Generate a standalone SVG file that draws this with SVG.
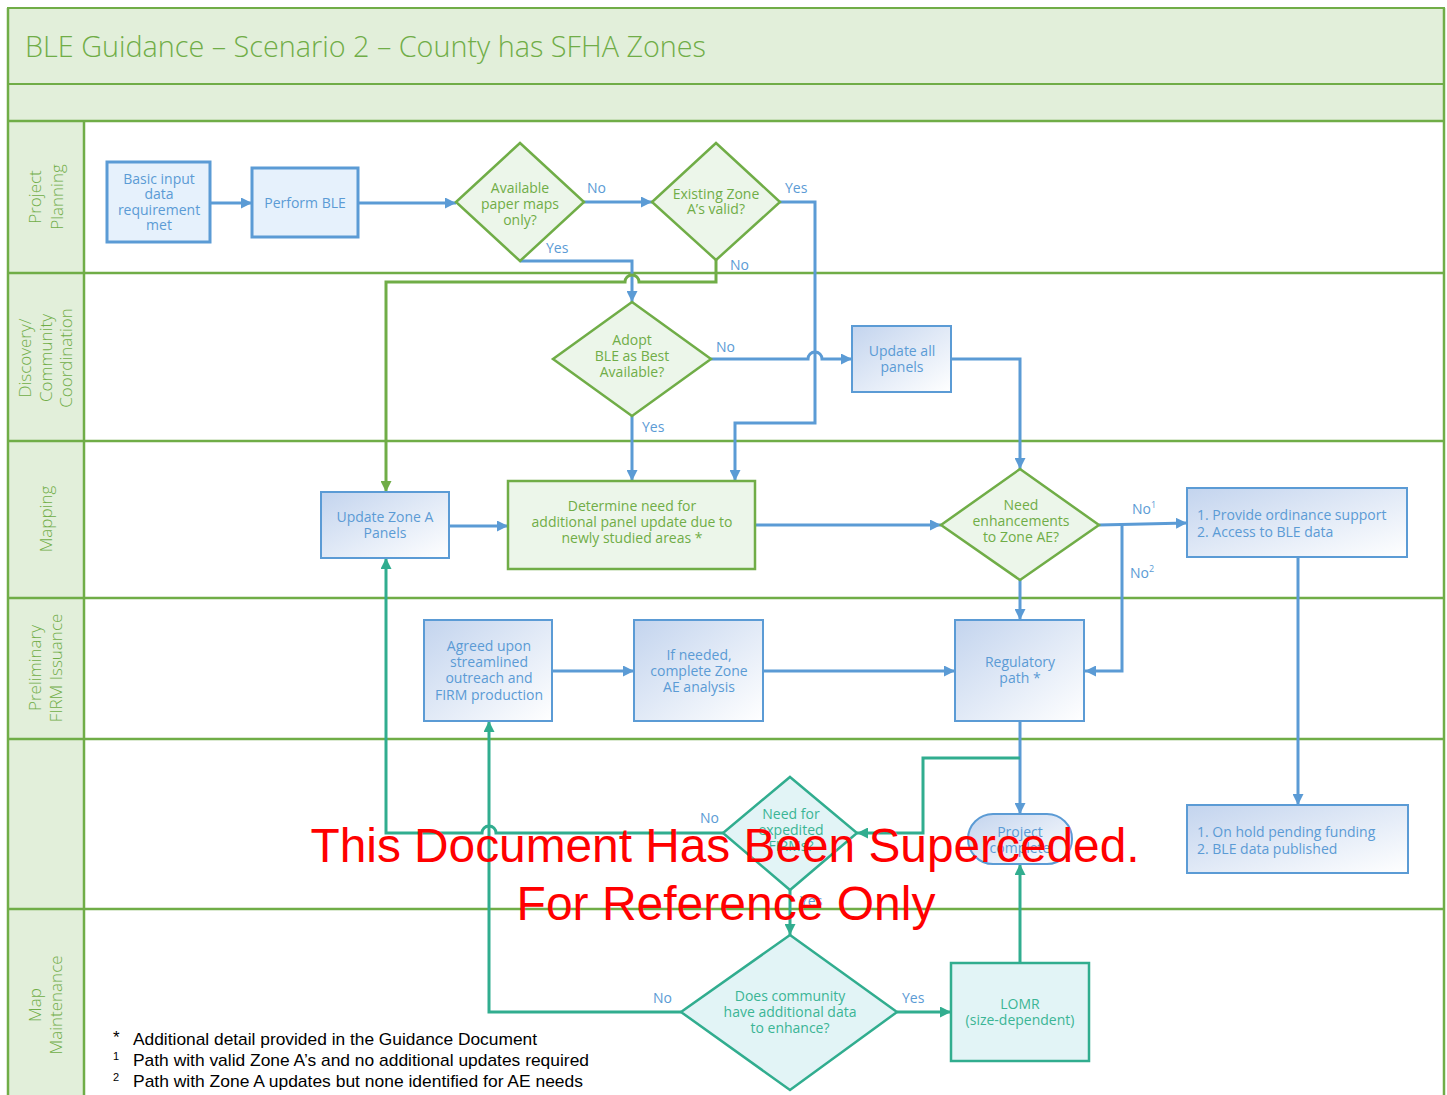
<svg xmlns="http://www.w3.org/2000/svg" width="1447" height="1095" viewBox="0 0 1447 1095">
<style>
.band{fill:#e2efda;stroke:#70ad47;stroke-width:2}
.lane{stroke:#70ad47;stroke-width:2.5;fill:none}
.hdrt{font-family:"Open Sans","Liberation Sans",sans-serif;font-weight:300;font-size:17px;fill:#70ad47;text-anchor:middle}
.t{font-family:"Open Sans","Liberation Sans",sans-serif;font-size:14px;text-anchor:middle}
.tl{font-family:"Open Sans","Liberation Sans",sans-serif;font-size:14px}
.tb{fill:#5b9bd5}
.tg{fill:#70ad47}
.tt{fill:#3bb595}
.flat{fill:#e6f1fc;stroke:#5b9bd5;stroke-width:3}
.grad{fill:url(#bg);stroke:#5b9bd5;stroke-width:2}
.gd{fill:#ecf6ea;stroke:#70ad47;stroke-width:2.5}
.td{fill:#e2f4f6;stroke:#31ad8f;stroke-width:2.5}
.cb{fill:none;stroke:#5b9bd5;stroke-width:3;marker-end:url(#ab)}
.cg{fill:none;stroke:#70ad47;stroke-width:3;marker-end:url(#ag)}
.ct{fill:none;stroke:#31ad8f;stroke-width:3;marker-end:url(#at)}
.lbl{font-family:"Open Sans","Liberation Sans",sans-serif;font-size:14px;fill:#5b9bd5}
.fn{font-family:"Liberation Sans",Arial,sans-serif;font-size:17px;fill:#000}
.sup{font-family:"Liberation Sans",Arial,sans-serif;font-size:11px;fill:#000}
.wm{font-family:"Liberation Sans",Arial,sans-serif;font-size:48px;fill:#ff0000;text-anchor:middle}
</style>
<defs>
<linearGradient id="bg" x1="0" y1="0" x2="1" y2="1">
<stop offset="0" stop-color="#c3d4ee"/>
<stop offset="1" stop-color="#ffffff"/>
</linearGradient>
<marker id="ab" viewBox="0 0 10 10" refX="10" refY="5" markerWidth="11" markerHeight="11" markerUnits="userSpaceOnUse" orient="auto"><path d="M0,0 L10,5 L0,10 z" fill="#5b9bd5"/></marker>
<marker id="ag" viewBox="0 0 10 10" refX="10" refY="5" markerWidth="11" markerHeight="11" markerUnits="userSpaceOnUse" orient="auto"><path d="M0,0 L10,5 L0,10 z" fill="#70ad47"/></marker>
<marker id="at" viewBox="0 0 10 10" refX="10" refY="5" markerWidth="11" markerHeight="11" markerUnits="userSpaceOnUse" orient="auto"><path d="M0,0 L10,5 L0,10 z" fill="#31ad8f"/></marker>
</defs>
<rect width="1447" height="1095" fill="#ffffff"/>
<g id="swimlanes">
<rect x="8" y="8" width="1436" height="76" class="band"/>
<rect x="8" y="84" width="1436" height="37" class="band"/>
<rect x="8" y="121" width="76" height="980" fill="#e2efda"/>
<path class="lane" d="M8,121 H1444 M8,273 H1444 M8,441 H1444 M8,598 H1444 M8,739 H1444 M8,909 H1444 M8,8 V1095 M84,121 V1095 M1444,8 V1095"/>
<text x="25" y="57" font-family="'Open Sans','Liberation Sans',sans-serif" font-weight="300" font-size="30" fill="#70ad47" textLength="681" lengthAdjust="spacingAndGlyphs">BLE Guidance – Scenario 2 – County has SFHA Zones</text>
<text class="hdrt" transform="translate(41,197) rotate(-90)">Project</text>
<text class="hdrt" transform="translate(63,197) rotate(-90)">Planning</text>
<text class="hdrt" transform="translate(31,358) rotate(-90)">Discovery/</text>
<text class="hdrt" transform="translate(52,358) rotate(-90)">Community</text>
<text class="hdrt" transform="translate(72,358) rotate(-90)">Coordination</text>
<text class="hdrt" transform="translate(52,519) rotate(-90)">Mapping</text>
<text class="hdrt" transform="translate(41,668) rotate(-90)">Preliminary</text>
<text class="hdrt" transform="translate(62,668) rotate(-90)">FIRM Issuance</text>
<text class="hdrt" transform="translate(41,1005) rotate(-90)">Map</text>
<text class="hdrt" transform="translate(62,1005) rotate(-90)">Maintenance</text>
</g>
<g id="connectors">
<path class="cb" d="M210,203 H252"/>
<path class="cb" d="M358,203 H456"/>
<path class="cb" d="M584,202 H652"/>
<path class="cb" d="M520,261 H632 V302"/>
<path class="cb" d="M780,202 H815 V423 H735 V481"/>
<path class="cb" d="M711,359 H808 a7,7 0 0 1 14,0 H852"/>
<path class="cb" d="M632,416 V481"/>
<path class="cb" d="M951,359 H1020 V469"/>
<path class="cb" d="M449,526 H508"/>
<path class="cb" d="M755,525 H941"/>
<path class="cb" d="M1099,525 L1187,523"/>
<path class="cb" d="M1122,525 V671 H1085"/>
<path class="cb" d="M1020,580 V620"/>
<path class="cb" d="M1298,557 V805"/>
<path class="cb" d="M552,671 H634"/>
<path class="cb" d="M763,671 H955"/>
<path class="cb" d="M1020,721 V814"/>
<path class="cg" d="M716,260 V282 H639 a7,7 0 0 0 -14,0 H386 V492"/>
<path class="ct" d="M1020,758 H923 V833 H857"/>
<path class="ct" d="M723,833 H496 a7,7 0 0 0 -14,0 H386 V558"/>
<path class="ct" d="M790,890 V935"/>
<path class="ct" d="M681,1012 H489 V721"/>
<path class="ct" d="M897,1012 H951"/>
<path class="ct" d="M1020,963 V864"/>
</g>
<g id="n-basic-input"><rect x="107" y="162" width="103" height="80" class="flat"/>
<text class="t tb"><tspan x="159" y="184">Basic input</tspan><tspan x="159" y="199">data</tspan><tspan x="159" y="215">requirement</tspan><tspan x="159" y="230">met</tspan></text></g>
<g id="n-perform-ble"><rect x="252" y="168" width="106" height="69" class="flat"/>
<text class="t tb" x="305" y="208">Perform BLE</text></g>
<g id="n-available-paper"><polygon points="520,143 584,202 520,261 456,202" class="gd"/>
<text class="t tg"><tspan x="520" y="193">Available</tspan><tspan x="520" y="209">paper maps</tspan><tspan x="520" y="225">only?</tspan></text></g>
<g id="n-existing-zone"><polygon points="716,143 780,202 716,260 652,202" class="gd"/>
<text class="t tg"><tspan x="716" y="199">Existing Zone</tspan><tspan x="716" y="214">A’s valid?</tspan></text></g>
<g id="n-adopt-ble"><polygon points="632,302 711,359 632,416 553,359" class="gd"/>
<text class="t tg"><tspan x="632" y="345">Adopt</tspan><tspan x="632" y="361">BLE as Best</tspan><tspan x="632" y="377">Available?</tspan></text></g>
<g id="n-update-all"><rect x="852" y="326" width="99" height="66" class="grad"/>
<text class="t tb"><tspan x="902" y="356">Update all</tspan><tspan x="902" y="372">panels</tspan></text></g>
<g id="n-update-zone-a"><rect x="321" y="492" width="128" height="66" class="grad"/>
<text class="t tb"><tspan x="385" y="522">Update Zone A</tspan><tspan x="385" y="538">Panels</tspan></text></g>
<g id="n-determine"><rect x="508" y="481" width="247" height="88" class="gd"/>
<text class="t tg"><tspan x="632" y="511">Determine need for</tspan><tspan x="632" y="527">additional panel update due to</tspan><tspan x="632" y="543">newly studied areas *</tspan></text></g>
<g id="n-need-enh"><polygon points="1020,469 1099,525 1020,580 941,525" class="gd"/>
<text class="t tg"><tspan x="1021" y="510">Need</tspan><tspan x="1021" y="526">enhancements</tspan><tspan x="1021" y="542">to Zone AE?</tspan></text></g>
<g id="n-provide"><rect x="1187" y="488" width="220" height="69" class="grad"/>
<text class="tl tb"><tspan x="1197" y="520">1.  Provide ordinance support</tspan><tspan x="1197" y="537">2.  Access to BLE data</tspan></text></g>
<g id="n-agreed"><rect x="424" y="620" width="128" height="101" class="grad"/>
<text class="t tb"><tspan x="489" y="651">Agreed upon</tspan><tspan x="489" y="667">streamlined</tspan><tspan x="489" y="683">outreach and</tspan><tspan x="489" y="700">FIRM production</tspan></text></g>
<g id="n-if-needed"><rect x="634" y="620" width="129" height="101" class="grad"/>
<text class="t tb"><tspan x="699" y="660">If needed,</tspan><tspan x="699" y="676">complete Zone</tspan><tspan x="699" y="692">AE analysis</tspan></text></g>
<g id="n-regulatory"><rect x="955" y="620" width="129" height="101" class="grad"/>
<text class="t tb"><tspan x="1020" y="667">Regulatory</tspan><tspan x="1020" y="683">path *</tspan></text></g>
<g id="n-expedited"><polygon points="790,777 857,833 790,890 723,833" class="td"/>
<text class="t tt"><tspan x="791" y="819">Need for</tspan><tspan x="791" y="835">expedited</tspan><tspan x="791" y="851">FIRMs?</tspan></text></g>
<g id="n-project-complete"><rect x="968" y="814" width="104" height="50" rx="25" ry="25" class="grad"/>
<text class="t tb"><tspan x="1020" y="837">Project</tspan><tspan x="1020" y="853">complete</tspan></text></g>
<g id="n-on-hold"><rect x="1187" y="805" width="221" height="68" class="grad"/>
<text class="tl tb"><tspan x="1197" y="837">1.  On hold pending funding</tspan><tspan x="1197" y="854">2.  BLE data published</tspan></text></g>
<g id="n-does-community"><polygon points="790,935 897,1012 790,1090 681,1012" class="td"/>
<text class="t tt"><tspan x="790" y="1001">Does community</tspan><tspan x="790" y="1017">have additional data</tspan><tspan x="790" y="1033">to enhance?</tspan></text></g>
<g id="n-lomr"><rect x="951" y="963" width="138" height="98" class="td"/>
<text class="t tt"><tspan x="1020" y="1009">LOMR</tspan><tspan x="1020" y="1025">(size-dependent)</tspan></text></g>
<g id="labels">
<text class="lbl" x="587" y="193">No</text>
<text class="lbl" x="785" y="193">Yes</text>
<text class="lbl" x="546" y="253">Yes</text>
<text class="lbl" x="730" y="270">No</text>
<text class="lbl" x="716" y="352">No</text>
<text class="lbl" x="642" y="432">Yes</text>
<text class="lbl" x="1132" y="514">No<tspan font-size="9" dy="-6">1</tspan></text>
<text class="lbl" x="1130" y="578">No<tspan font-size="9" dy="-6">2</tspan></text>
<text class="lbl" x="700" y="823">No</text>
<text class="lbl" x="800" y="906">Yes</text>
<text class="lbl" x="653" y="1003">No</text>
<text class="lbl" x="902" y="1003">Yes</text>
</g>
<g id="footnotes">
<text class="fn" x="113" y="1043">*</text>
<text class="fn" x="133" y="1045" textLength="404" lengthAdjust="spacingAndGlyphs">Additional detail provided in the Guidance Document</text>
<text class="sup" x="113" y="1060">1</text>
<text class="fn" x="133" y="1066" textLength="456" lengthAdjust="spacingAndGlyphs">Path with valid Zone A’s and no additional updates required</text>
<text class="sup" x="113" y="1081">2</text>
<text class="fn" x="133" y="1087" textLength="450" lengthAdjust="spacingAndGlyphs">Path with Zone A updates but none identified for AE needs</text>
</g>
<g id="watermark">
<text class="wm" x="725" y="862" textLength="829" lengthAdjust="spacingAndGlyphs">This Document Has Been Superceded.</text>
<text class="wm" x="726" y="920">For Reference Only</text>
</g>
</svg>
